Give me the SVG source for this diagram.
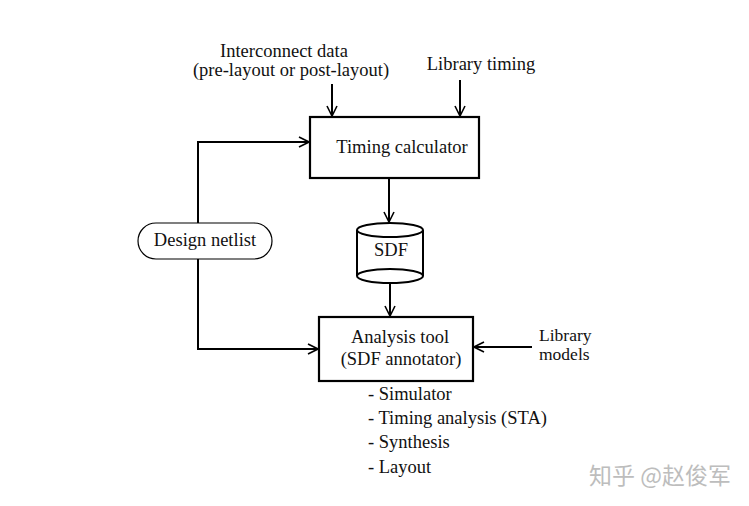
<svg xmlns="http://www.w3.org/2000/svg" width="749" height="506" viewBox="0 0 749 506">
<defs>
<style>
.t{font-family:"Liberation Serif","Tinos","DejaVu Serif","Noto Serif",serif;font-size:18.5px;fill:#111}
.box{fill:#fff;stroke:#000;stroke-width:2.2}
.ln{fill:none;stroke:#000;stroke-width:2}
.wm{font-family:"Noto Sans CJK SC","Noto Sans",sans-serif;font-size:23px;fill:#bdbdbd}
</style>
<marker id="ah" viewBox="0 0 12 12" refX="11" refY="6" markerWidth="12" markerHeight="12" markerUnits="userSpaceOnUse" orient="auto">
<path d="M1,1 L11,6 L1,11" fill="none" stroke="#000" stroke-width="1.6"/>
</marker>
</defs>
<rect width="749" height="506" fill="#fff"/>
<g id="connectors">
<line class="ln" x1="332" y1="84" x2="332" y2="116" marker-end="url(#ah)"/>
<line class="ln" x1="460" y1="80" x2="460" y2="116" marker-end="url(#ah)"/>
<polyline class="ln" points="198,223 198,142 309,142" marker-end="url(#ah)"/>
<polyline class="ln" points="198,259 198,349 318,349" marker-end="url(#ah)"/>
<line class="ln" x1="389" y1="178" x2="389" y2="222" marker-end="url(#ah)"/>
<line class="ln" x1="390" y1="283" x2="390" y2="316" marker-end="url(#ah)"/>
<line class="ln" x1="532" y1="347" x2="474" y2="347" marker-end="url(#ah)"/>
</g>
<g id="interconnect-data">
<text class="t" x="284" y="57" text-anchor="middle">Interconnect data</text>
<text class="t" x="291" y="76" text-anchor="middle">(pre-layout or post-layout)</text>
</g>
<g id="library-timing">
<text class="t" x="481" y="70" text-anchor="middle">Library timing</text>
</g>
<g id="timing-calculator">
<rect class="box" x="310" y="117" width="169" height="61"/>
<text class="t" x="402" y="153" text-anchor="middle">Timing calculator</text>
</g>
<g id="design-netlist">
<rect x="138" y="223" width="134" height="36" rx="18" ry="18" fill="#fff" stroke="#000" stroke-width="1.2"/>
<text class="t" x="205" y="246" text-anchor="middle">Design netlist</text>
</g>
<g id="sdf">
<path d="M357,230 L357,276 A33,7 0 0 0 423,276 L423,230" fill="#fff" stroke="#000" stroke-width="2"/>
<ellipse cx="390" cy="230" rx="33" ry="7" fill="#fff" stroke="#000" stroke-width="2"/>
<path d="M357,276 A33,7 0 0 1 423,276" fill="none" stroke="#000" stroke-width="2"/>
<text class="t" x="391" y="256" text-anchor="middle">SDF</text>
</g>
<g id="analysis-tool">
<rect class="box" x="319" y="317" width="154" height="64"/>
<text class="t" x="400" y="343" text-anchor="middle">Analysis tool</text>
<text class="t" x="401" y="365" text-anchor="middle">(SDF annotator)</text>
</g>
<g id="library-models">
<text class="t" x="539" y="341" style="font-size:17.5px">Library</text>
<text class="t" x="539" y="360" style="font-size:17.5px">models</text>
</g>
<g id="tool-list">
<text class="t" x="368" y="400">- Simulator</text>
<text class="t" x="368" y="424">- Timing analysis (STA)</text>
<text class="t" x="368" y="448">- Synthesis</text>
<text class="t" x="368" y="473">- Layout</text>
</g>
<text class="wm" x="589" y="484">知乎 @赵俊军</text>
</svg>
